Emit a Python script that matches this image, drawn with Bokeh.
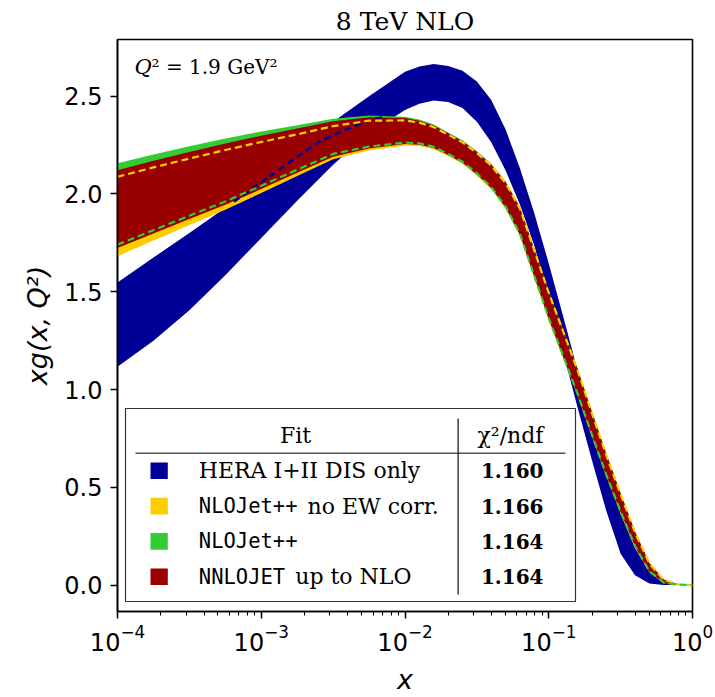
from bokeh.plotting import figure
from bokeh.models import Range1d, FixedTicker, PrintfTickFormatter, Label, BoxAnnotation, LogTicker
from bokeh.embed import file_html
from bokeh.resources import INLINE

# ---------------- data ----------------
LOG10_X = [-4.0, -3.75, -3.5, -3.25, -3.0, -2.75, -2.5, -2.25, -2.0, -1.9, -1.8, -1.7, -1.6,
           -1.5, -1.4, -1.3, -1.2, -1.1, -1.0, -0.9, -0.8, -0.7, -0.6, -0.5, -0.4, -0.3,
           -0.2, -0.1, 0.0]

HERA_HI = [1.548, 1.675, 1.80, 1.93, 2.07, 2.22, 2.37, 2.50, 2.625, 2.652, 2.665, 2.655, 2.63,
           2.575, 2.48, 2.33, 2.13, 1.90, 1.645, 1.375, 1.10, 0.835, 0.585, 0.365, 0.19, 0.075,
           0.02, 0.003, 0.0]
HERA_LO = [1.116, 1.25, 1.405, 1.585, 1.775, 1.965, 2.15, 2.31, 2.43, 2.462, 2.478, 2.47, 2.44,
           2.37, 2.265, 2.12, 1.945, 1.735, 1.46, 1.19, 0.91, 0.64, 0.38, 0.16, 0.05, 0.008,
           0.0, 0.0, 0.0]

NNLOJET_HI = [2.122, 2.17, 2.215, 2.258, 2.298, 2.335, 2.372, 2.393, 2.388, 2.375, 2.35, 2.31, 2.27,
              2.215, 2.15, 2.06, 1.93, 1.715, 1.50, 1.303, 1.105, 0.885, 0.67, 0.468, 0.273, 0.112,
              0.028, 0.004, 0.0]
NNLOJET_LO = [1.724, 1.798, 1.872, 1.945, 2.025, 2.108, 2.191, 2.232, 2.255, 2.252, 2.235, 2.20, 2.16,
              2.10, 2.03, 1.93, 1.79, 1.575, 1.36, 1.167, 0.975, 0.765, 0.56, 0.372, 0.197, 0.068,
              0.012, 0.002, 0.0]

NOEW_HI = [2.088, 2.136, 2.181, 2.225, 2.266, 2.305, 2.347, 2.375, 2.376, 2.365, 2.342, 2.303, 2.264,
           2.21, 2.145, 2.055, 1.925, 1.71, 1.495, 1.298, 1.10, 0.88, 0.665, 0.464, 0.27, 0.11,
           0.027, 0.004, 0.0]
NOEW_LO = [1.682, 1.762, 1.842, 1.92, 2.005, 2.092, 2.178, 2.222, 2.247, 2.245, 2.229, 2.194, 2.154,
           2.094, 2.024, 1.924, 1.784, 1.569, 1.354, 1.161, 0.969, 0.759, 0.555, 0.367, 0.193, 0.065,
           0.011, 0.002, 0.0]

NLOJET_HI = [2.157, 2.202, 2.244, 2.284, 2.32, 2.352, 2.385, 2.402, 2.395, 2.381, 2.355, 2.315, 2.275,
             2.22, 2.155, 2.065, 1.935, 1.72, 1.505, 1.308, 1.11, 0.89, 0.675, 0.472, 0.276, 0.114,
             0.029, 0.004, 0.0]
NLOJET_LO = [1.741, 1.815, 1.889, 1.962, 2.042, 2.124, 2.205, 2.243, 2.263, 2.259, 2.241, 2.205, 2.165,
             2.105, 2.035, 1.935, 1.795, 1.58, 1.365, 1.172, 0.98, 0.77, 0.565, 0.376, 0.2, 0.07,
             0.013, 0.002, 0.0]

HERA_DASH_LOG10_X = [-3.19, -2.98, -2.75, -2.6, -2.426, -2.217, -2.15]
HERA_DASH_Y = [1.96, 2.07, 2.19, 2.265, 2.326, 2.385, 2.393]

FIT_MONO = ["", "NLOJet++", "NLOJet++", "NNLOJET"]
FIT_TEXT = ["HERA I+II DIS only", "no EW corr.", "", "up to NLO"]
CHI2_NDF = ["1.160", "1.166", "1.164", "1.164"]
FIT_COLORS = ["#000099", "#ffcc00", "#33cc33", "#990000"]

Y_TICKS = [0.0, 0.5, 1.0, 1.5, 2.0, 2.5]
X_RANGE = (1e-4, 1.0)
Y_RANGE = (-0.135, 2.79)

X = [10 ** v for v in LOG10_X]
X_DASH = [10 ** v for v in HERA_DASH_LOG10_X]

# ---------------- figure ----------------
FL, FT, FR, FB = 117, 39, 692, 614   # frame edges in canvas pixels
W, H = 715, 697

p = figure(width=W, height=H, x_axis_type="log",
           x_range=Range1d(*X_RANGE), y_range=Range1d(*Y_RANGE),
           output_backend="svg", toolbar_location=None,
           min_border_left=FL, min_border_right=W - FR,
           min_border_top=FT, min_border_bottom=H - FB,
           title="8 TeV NLO")
p.background_fill_color = "white"
p.border_fill_color = "white"
p.grid.visible = False
p.outline_line_color = "black"
p.outline_line_width = 1.6

p.title.text_font = "DejaVu Serif"
p.title.text_font_size = "25px"
p.title.text_font_style = "normal"
p.title.align = "center"
p.title.text_color = "black"
p.title.standoff = 8

# bands
p.varea(x=X, y1=HERA_LO, y2=HERA_HI, fill_color=FIT_COLORS[0])
p.varea(x=X, y1=NOEW_LO, y2=NOEW_HI, fill_color=FIT_COLORS[1])
p.varea(x=X, y1=NLOJET_LO, y2=NLOJET_HI, fill_color=FIT_COLORS[2])
p.varea(x=X, y1=NNLOJET_LO, y2=NNLOJET_HI, fill_color=FIT_COLORS[3])

# dashed lines
dash = "7 4"
p.line(X_DASH, HERA_DASH_Y, line_color=FIT_COLORS[0], line_width=2.4, line_dash=dash)
p.line(X, NOEW_HI, line_color=FIT_COLORS[1], line_width=2.2, line_dash=dash)
p.line(X, NLOJET_LO, line_color=FIT_COLORS[2], line_width=2.2, line_dash=dash)

# axes
for ax in (p.xaxis[0], p.yaxis[0]):
    ax.axis_line_width = 1.6
    ax.axis_line_color = "black"
    ax.major_tick_line_width = 1.5
    ax.major_tick_line_color = "black"
    ax.major_tick_out = 7
    ax.major_tick_in = 0
    ax.major_label_text_font = "DejaVu Sans"
    ax.major_label_text_font_size = "24px"
    ax.major_label_text_color = "black"
    ax.axis_label_text_font = "DejaVu Sans"
    ax.axis_label_text_font_size = "27px"
    ax.axis_label_text_font_style = "italic"
    ax.axis_label_text_color = "black"

p.xaxis.ticker = LogTicker(desired_num_ticks=5, num_minor_ticks=10)
p.xaxis.minor_tick_out = 4
p.xaxis.minor_tick_in = 0
p.xaxis.minor_tick_line_width = 1.1
p.xaxis.minor_tick_line_color = "black"
p.xaxis.major_label_standoff = 5
p.xaxis.axis_label = "x"
p.xaxis.axis_label_standoff = 10

p.yaxis.ticker = FixedTicker(ticks=Y_TICKS)
p.yaxis.formatter = PrintfTickFormatter(format="%.1f")
p.yaxis.minor_tick_line_color = None
p.yaxis.major_label_standoff = 8
p.yaxis.axis_label = "xg(x, Q²)"
p.yaxis.axis_label_standoff = 8


def sx(cx):
    return cx - FL


def sy(cy):
    return FB - cy


def label(cx, cy, text, font="DejaVu Serif", size="22px", align="left", style="normal"):
    p.add_layout(Label(x=sx(cx), y=sy(cy), x_units="screen", y_units="screen", text=text,
                       text_font=font, text_font_size=size, text_align=align,
                       text_baseline="middle", text_font_style=style, text_color="black",
                       level="overlay"))


def box(left, right, top, bottom, fill, line=None, lw=0):
    p.add_layout(BoxAnnotation(left=sx(left), right=sx(right), top=sy(top), bottom=sy(bottom),
                               left_units="screen", right_units="screen",
                               top_units="screen", bottom_units="screen",
                               fill_color=fill, fill_alpha=1.0,
                               line_color=line, line_width=lw, line_alpha=1.0 if line else 0.0,
                               level="overlay"))


# Q^2 annotation
label(134, 69, "Q", size="21px", style="italic")
label(151, 69, "² = 1.9 GeV²", size="20px")

# legend table
box(125, 575, 411, 604, "white", line="#333333", lw=1.2)
box(135, 565, 455, 456.6, "#555555")
box(457, 458.3, 421, 597, "#222222")
label(295, 438, "Fit", align="center")
label(510, 438, "χ²/ndf", align="center")
row_y0, row_dy = 473.3, 35.3
for i, (mono, txt, chi, col) in enumerate(zip(FIT_MONO, FIT_TEXT, CHI2_NDF, FIT_COLORS)):
    cy = row_y0 + i * row_dy
    box(150, 167.3, cy - 8.3, cy + 8.3, col)
    x0 = 198.3
    if mono:
        label(x0, cy, mono, font="DejaVu Sans Mono", size="20.5px")
        x0 += len(mono) * 12.35 + 10
    if txt:
        label(x0, cy, txt)
    label(511.7, cy, chi, align="center", style="bold", size="20px")

open("out.html", "w").write(file_html(p, INLINE))
